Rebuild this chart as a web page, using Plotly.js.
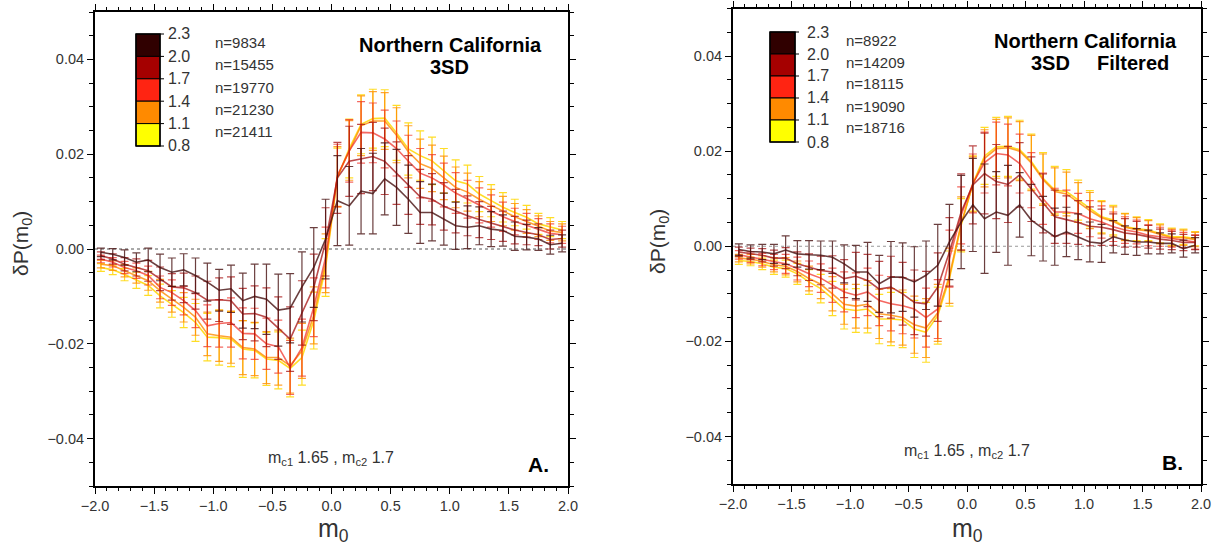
<!DOCTYPE html>
<html>
<head>
<meta charset="utf-8">
<script src="https://cdn.plot.ly/plotly-3.0.1.min.js"></script>
<style>html,body{margin:0;padding:0;background:#fff;}#chart{width:1222px;height:554px;}</style>
</head>
<body>
<div id="chart"></div>
<script>
// ---------- data ----------
const m0 = [-1.95,-1.85,-1.75,-1.65,-1.55,-1.45,-1.35,-1.25,-1.15,-1.05,-0.95,-0.85,-0.75,-0.65,-0.55,-0.45,-0.35,-0.25,-0.15,-0.05,
            0.05,0.15,0.25,0.35,0.45,0.55,0.65,0.75,0.85,0.95,1.05,1.15,1.25,1.35,1.45,1.55,1.65,1.75,1.85,1.95];

const binLabels = ["2.3","2.0","1.7","1.4","1.1","0.8"];
const countsA = ["n=9834","n=15455","n=19770","n=21230","n=21411"];
const countsB = ["n=8922","n=14209","n=18115","n=19090","n=18716"];

// Panel A (3SD)
const A23 = [-0.0007,-0.0011,-0.0018,-0.0028,-0.0023,-0.0039,-0.0049,-0.0044,-0.0056,-0.0070,-0.0087,-0.0084,-0.0109,-0.0100,-0.0106,-0.0129,-0.0125,-0.0080,-0.0039,0.0021,
             0.0102,0.0091,0.0122,0.0117,0.0148,0.0130,0.0105,0.0077,0.0077,0.0063,0.0049,0.0046,0.0049,0.0042,0.0039,0.0027,0.0025,0.0021,0.0009,0.0012];
const A20 = [-0.0014,-0.0021,-0.0032,-0.0039,-0.0046,-0.0063,-0.0080,-0.0082,-0.0092,-0.0108,-0.0107,-0.0109,-0.0137,-0.0136,-0.0144,-0.0167,-0.0190,-0.0135,-0.0081,0.0015,
             0.0150,0.0185,0.0190,0.0195,0.0185,0.0160,0.0135,0.0110,0.0105,0.0090,0.0080,0.0070,0.0062,0.0055,0.0048,0.0040,0.0035,0.0030,0.0020,0.0022];
const A17 = [-0.0021,-0.0028,-0.0039,-0.0046,-0.0056,-0.0081,-0.0092,-0.0109,-0.0130,-0.0162,-0.0157,-0.0155,-0.0178,-0.0179,-0.0200,-0.0206,-0.0250,-0.0208,-0.0123,-0.0018,
             0.0155,0.0207,0.0246,0.0245,0.0232,0.0212,0.0185,0.0160,0.0150,0.0135,0.0118,0.0105,0.0092,0.0080,0.0068,0.0058,0.0050,0.0042,0.0033,0.0030];
const A14 = [-0.0032,-0.0035,-0.0046,-0.0056,-0.0067,-0.0088,-0.0106,-0.0123,-0.0144,-0.0179,-0.0183,-0.0186,-0.0208,-0.0211,-0.0229,-0.0229,-0.0246,-0.0215,-0.0140,-0.0030,
             0.0153,0.0208,0.0260,0.0270,0.0270,0.0240,0.0205,0.0180,0.0170,0.0150,0.0130,0.0120,0.0105,0.0092,0.0080,0.0068,0.0058,0.0048,0.0038,0.0035];
const A11 = [-0.0039,-0.0044,-0.0054,-0.0066,-0.0077,-0.0099,-0.0116,-0.0134,-0.0155,-0.0186,-0.0187,-0.0190,-0.0211,-0.0214,-0.0232,-0.0235,-0.0252,-0.0229,-0.0151,-0.0039,
             0.0151,0.0212,0.0263,0.0275,0.0276,0.0245,0.0211,0.0197,0.0186,0.0165,0.0144,0.0137,0.0116,0.0102,0.0088,0.0077,0.0067,0.0053,0.0046,0.0040];

const eA23 = [0.0009,0.0012,0.0016,0.0020,0.0025,0.0028,0.0030,0.0034,0.0037,0.0040,0.0044,0.0050,0.0058,0.0068,0.0074,0.0076,0.0073,0.0074,0.0084,0.0084,
              0.0095,0.0083,0.0090,0.0085,0.0076,0.0080,0.0072,0.0065,0.0060,0.0055,0.0050,0.0045,0.0040,0.0037,0.0033,0.0030,0.0027,0.0024,0.0020,0.0018];
const eA20 = [0.0008,0.0011,0.0014,0.0018,0.0022,0.0025,0.0028,0.0031,0.0035,0.0040,0.0046,0.0050,0.0054,0.0058,0.0062,0.0066,0.0068,0.0068,0.0070,0.0072,
              0.0075,0.0074,0.0073,0.0072,0.0070,0.0066,0.0062,0.0058,0.0054,0.0050,0.0046,0.0042,0.0038,0.0035,0.0032,0.0029,0.0026,0.0023,0.0020,0.0018];
const eA17 = [0.0008,0.0010,0.0013,0.0016,0.0020,0.0024,0.0027,0.0030,0.0036,0.0044,0.0050,0.0052,0.0054,0.0054,0.0054,0.0056,0.0057,0.0060,0.0062,0.0064,
              0.0066,0.0066,0.0065,0.0063,0.0061,0.0058,0.0055,0.0052,0.0049,0.0046,0.0043,0.0040,0.0037,0.0034,0.0031,0.0028,0.0025,0.0022,0.0020,0.0018];
const eA14 = [0.0008,0.0010,0.0013,0.0016,0.0020,0.0024,0.0027,0.0031,0.0038,0.0046,0.0054,0.0055,0.0057,0.0056,0.0055,0.0058,0.0058,0.0058,0.0060,0.0062,
              0.0063,0.0063,0.0063,0.0062,0.0060,0.0058,0.0055,0.0052,0.0049,0.0046,0.0043,0.0040,0.0037,0.0034,0.0031,0.0028,0.0025,0.0022,0.0020,0.0018];
const eA11 = [0.0008,0.0010,0.0013,0.0017,0.0021,0.0025,0.0028,0.0032,0.0040,0.0050,0.0058,0.0058,0.0060,0.0058,0.0056,0.0060,0.0060,0.0058,0.0060,0.0061,
              0.0062,0.0062,0.0062,0.0062,0.0060,0.0058,0.0055,0.0052,0.0050,0.0047,0.0044,0.0040,0.0037,0.0034,0.0031,0.0028,0.0025,0.0022,0.0020,0.0018];

// Panel B (3SD Filtered)
const B23 = [-0.0007,-0.0011,-0.0012,-0.0016,-0.0008,-0.0016,-0.0018,-0.0019,-0.0023,-0.0037,-0.0054,-0.0054,-0.0079,-0.0065,-0.0065,-0.0075,-0.0061,-0.0040,0.0009,0.0051,
             0.0087,0.0058,0.0072,0.0065,0.0087,0.0055,0.0037,0.0020,0.0030,0.0020,0.0009,0.0006,0.0020,0.0013,0.0009,0.0009,0.0006,0.0006,-0.0005,0.0002];
const B20 = [-0.0012,-0.0016,-0.0019,-0.0025,-0.0025,-0.0037,-0.0044,-0.0051,-0.0054,-0.0068,-0.0063,-0.0072,-0.0090,-0.0086,-0.0100,-0.0118,-0.0121,-0.0086,-0.0012,0.0072,
             0.0129,0.0153,0.0136,0.0130,0.0150,0.0120,0.0090,0.0062,0.0056,0.0050,0.0042,0.0040,0.0035,0.0028,0.0025,0.0020,0.0015,0.0012,0.0008,0.0008];
const B17 = [-0.0018,-0.0023,-0.0028,-0.0033,-0.0037,-0.0047,-0.0058,-0.0067,-0.0082,-0.0096,-0.0103,-0.0096,-0.0114,-0.0121,-0.0125,-0.0132,-0.0150,-0.0132,-0.0026,0.0065,
             0.0132,0.0176,0.0195,0.0192,0.0174,0.0139,0.0100,0.0072,0.0072,0.0069,0.0058,0.0051,0.0041,0.0034,0.0030,0.0023,0.0020,0.0016,0.0013,0.0009];
const B14 = [-0.0025,-0.0027,-0.0032,-0.0039,-0.0042,-0.0053,-0.0068,-0.0080,-0.0100,-0.0122,-0.0126,-0.0122,-0.0142,-0.0145,-0.0150,-0.0165,-0.0172,-0.0140,-0.0062,0.0048,
             0.0130,0.0185,0.0205,0.0207,0.0200,0.0175,0.0140,0.0115,0.0110,0.0092,0.0075,0.0060,0.0052,0.0040,0.0035,0.0032,0.0025,0.0018,0.0018,0.0014];
const B11 = [-0.0030,-0.0032,-0.0037,-0.0044,-0.0047,-0.0058,-0.0075,-0.0089,-0.0110,-0.0132,-0.0135,-0.0132,-0.0153,-0.0153,-0.0155,-0.0174,-0.0181,-0.0146,-0.0068,0.0044,
             0.0132,0.0190,0.0209,0.0210,0.0203,0.0178,0.0143,0.0118,0.0115,0.0097,0.0079,0.0062,0.0055,0.0041,0.0037,0.0034,0.0027,0.0020,0.0020,0.0016];

const eB23 = [0.0012,0.0014,0.0016,0.0020,0.0030,0.0028,0.0030,0.0030,0.0034,0.0040,0.0056,0.0062,0.0060,0.0075,0.0072,0.0074,0.0072,0.0086,0.0079,0.0098,
              0.0098,0.0115,0.0085,0.0105,0.0068,0.0075,0.0068,0.0060,0.0052,0.0048,0.0042,0.0040,0.0034,0.0030,0.0028,0.0025,0.0022,0.0020,0.0018,0.0016];
const eB20 = [0.0010,0.0012,0.0014,0.0017,0.0022,0.0025,0.0028,0.0030,0.0034,0.0040,0.0050,0.0055,0.0058,0.0065,0.0066,0.0068,0.0068,0.0072,0.0072,0.0080,
              0.0082,0.0085,0.0078,0.0080,0.0068,0.0068,0.0062,0.0056,0.0050,0.0046,0.0041,0.0038,0.0033,0.0030,0.0027,0.0024,0.0021,0.0019,0.0017,0.0015];
const eB17 = [0.0009,0.0011,0.0013,0.0016,0.0020,0.0024,0.0027,0.0030,0.0036,0.0042,0.0047,0.0050,0.0053,0.0057,0.0059,0.0061,0.0062,0.0062,0.0060,0.0060,
              0.0062,0.0064,0.0066,0.0065,0.0062,0.0058,0.0054,0.0050,0.0046,0.0042,0.0038,0.0034,0.0031,0.0028,0.0025,0.0022,0.0020,0.0018,0.0016,0.0015];
const eB14 = [0.0008,0.0010,0.0012,0.0015,0.0018,0.0022,0.0026,0.0030,0.0036,0.0042,0.0046,0.0050,0.0052,0.0056,0.0058,0.0060,0.0062,0.0060,0.0058,0.0056,
              0.0058,0.0060,0.0062,0.0063,0.0062,0.0058,0.0054,0.0050,0.0046,0.0042,0.0038,0.0034,0.0031,0.0028,0.0025,0.0022,0.0020,0.0018,0.0016,0.0015];
const eB11 = [0.0008,0.0009,0.0012,0.0015,0.0018,0.0022,0.0026,0.0030,0.0036,0.0042,0.0046,0.0050,0.0052,0.0056,0.0058,0.0060,0.0063,0.0060,0.0058,0.0056,
              0.0058,0.0060,0.0062,0.0063,0.0062,0.0058,0.0054,0.0050,0.0046,0.0042,0.0038,0.0034,0.0031,0.0028,0.0025,0.0022,0.0020,0.0018,0.0016,0.0015];

// ---------- styling ----------
const lineCols = ['rgba(255,215,0,0.85)','rgba(255,140,0,0.8)','rgba(240,40,30,0.7)','rgba(165,15,15,0.75)','rgba(70,15,15,0.8)'];
const boxCols  = ['#300000','#a50000','#ff2412','#ff8a00','#ffff00']; // top (2.3-2.0) to bottom (1.1-0.8)
const FONT = 'Liberation Sans, Arial, sans-serif';

const W = 1222, H = 554;
const px = v => v / W;
const py = v => 1 - v / H;

function series(y, e, col, xa, ya) {
  return {
    x: m0, y: y, type: 'scatter', mode: 'lines',
    xaxis: xa, yaxis: ya,
    line: {color: col, width: 1.6},
    error_y: {type: 'data', array: e, visible: true, color: col, thickness: 1.2, width: 4},
    hoverinfo: 'x+y'
  };
}

const traces = [
  series(A11, eA11, lineCols[0], 'x', 'y'),
  series(A14, eA14, lineCols[1], 'x', 'y'),
  series(A17, eA17, lineCols[2], 'x', 'y'),
  series(A20, eA20, lineCols[3], 'x', 'y'),
  series(A23, eA23, lineCols[4], 'x', 'y'),
  series(B11, eB11, lineCols[0], 'x2', 'y2'),
  series(B14, eB14, lineCols[1], 'x2', 'y2'),
  series(B17, eB17, lineCols[2], 'x2', 'y2'),
  series(B20, eB20, lineCols[3], 'x2', 'y2'),
  series(B23, eB23, lineCols[4], 'x2', 'y2')
];

const tickFont = {family: FONT, size: 14.5, color: '#333'};
function xAxis(dom, anchor) {
  return {
    domain: dom, anchor: anchor, range: [-2, 2], dtick: 0.5, tick0: 0, tickformat: '.1f',
    ticks: 'outside', ticklen: 6, tickwidth: 1, tickcolor: '#000',
    showline: true, linewidth: 2, linecolor: '#000', mirror: 'allticks',
    showgrid: false, zeroline: false, tickfont: tickFont,
    minor: {dtick: 0.1, ticks: 'outside', ticklen: 3, tickwidth: 1, tickcolor: '#000', showgrid: false}
  };
}
function yAxis(dom, anchor) {
  return {
    domain: dom, anchor: anchor, range: [-0.05, 0.05], dtick: 0.02, tick0: 0, tickformat: '.2f',
    ticks: 'outside', ticklen: 6, tickwidth: 1, tickcolor: '#000',
    showline: true, linewidth: 2, linecolor: '#000', mirror: 'allticks',
    showgrid: false, zeroline: false, tickfont: tickFont,
    minor: {dtick: 0.005, ticks: 'outside', ticklen: 4, tickwidth: 1, tickcolor: '#000', showgrid: false}
  };
}

const shapes = [
  {type: 'line', xref: 'x', yref: 'y', x0: -2, x1: 2, y0: 0, y1: 0, line: {color: '#555', width: 1, dash: 'dot'}, layer: 'below'},
  {type: 'line', xref: 'x2', yref: 'y2', x0: -2, x1: 2, y0: 0, y1: 0, line: {color: '#999', width: 1, dash: 'dot'}, layer: 'below'}
];
const annotations = [];

function colorKey(bx0, bx1, by0, by1, labX, nX, counts) {
  const h = (by1 - by0) / 5;
  for (let i = 0; i < 5; i++) {
    shapes.push({type: 'rect', xref: 'paper', yref: 'paper',
      x0: px(bx0), x1: px(bx1), y0: py(by0 + h * (i + 1)), y1: py(by0 + h * i),
      fillcolor: boxCols[i], line: {color: '#000', width: 1}});
    annotations.push({xref: 'paper', yref: 'paper', x: px(nX), y: py(by0 + h * (i + 0.5) - 3),
      text: counts[i], showarrow: false, xanchor: 'left', yanchor: 'middle',
      font: {family: FONT, size: 15, color: '#333'}});
  }
  shapes.push({type: 'rect', xref: 'paper', yref: 'paper', x0: px(bx0), x1: px(bx1), y0: py(by1), y1: py(by0),
    line: {color: '#000', width: 1.5}});
  for (let i = 0; i < 6; i++) {
    const yy = by0 + h * i;
    shapes.push({type: 'line', xref: 'paper', yref: 'paper', x0: px(bx1), x1: px(bx1 + 4), y0: py(yy), y1: py(yy),
      line: {color: '#000', width: 1}});
    annotations.push({xref: 'paper', yref: 'paper', x: px(labX), y: py(yy),
      text: binLabels[i], showarrow: false, xanchor: 'left', yanchor: 'middle',
      font: {family: FONT, size: 16, color: '#333'}});
  }
}
colorKey(136, 160, 34, 146, 166, 213, countsA);
colorKey(770, 795, 32, 142, 805, 844, countsB);

function txt(x, y, text, size, bold, extra) {
  const a = Object.assign({xref: 'paper', yref: 'paper', x: px(x), y: py(y), text: bold ? '<b>' + text + '</b>' : text,
    showarrow: false, xanchor: 'center', yanchor: 'middle', borderpad: 0,
    font: {family: FONT, size: size, color: bold ? '#000' : '#333'}}, extra || {});
  annotations.push(a);
}
// Panel titles
txt(450, 45, 'Northern California', 20, true);
txt(449, 67, '3SD', 20, true);
txt(1085, 41, 'Northern California', 20, true);
txt(1050, 63, '3SD', 20, true);
txt(1133, 63, 'Filtered', 20, true);
// parameters
txt(331, 458, 'm<sub>c1</sub> 1.65 , m<sub>c2</sub> 1.7', 16, false);
txt(967, 451, 'm<sub>c1</sub> 1.65 , m<sub>c2</sub> 1.7', 16, false);
// panel letters
txt(538, 464, 'A.', 21, true);
txt(1172, 462, 'B.', 21, true);
// axis titles
txt(333, 530, 'm<sub>0</sub>', 25, false);
txt(967, 530, 'm<sub>0</sub>', 25, false);
txt(22, 244, 'δP(m<sub>0</sub>)', 21, false, {textangle: -90});
txt(659, 242, 'δP(m<sub>0</sub>)', 21, false, {textangle: -90});

const layout = {
  width: W, height: H, margin: {l: 0, r: 0, t: 0, b: 0},
  paper_bgcolor: '#fff', plot_bgcolor: '#fff', showlegend: false,
  xaxis: xAxis([px(95), px(568)], 'y'),
  yaxis: yAxis([1 - 486 / H, 1 - 12 / H], 'x'),
  xaxis2: xAxis([px(733), px(1201)], 'y2'),
  yaxis2: yAxis([1 - 484 / H, 1 - 8.5 / H], 'x2'),
  shapes: shapes, annotations: annotations
};

Plotly.newPlot('chart', traces, layout, {displayModeBar: false, staticPlot: true});
</script>
</body>
</html>
